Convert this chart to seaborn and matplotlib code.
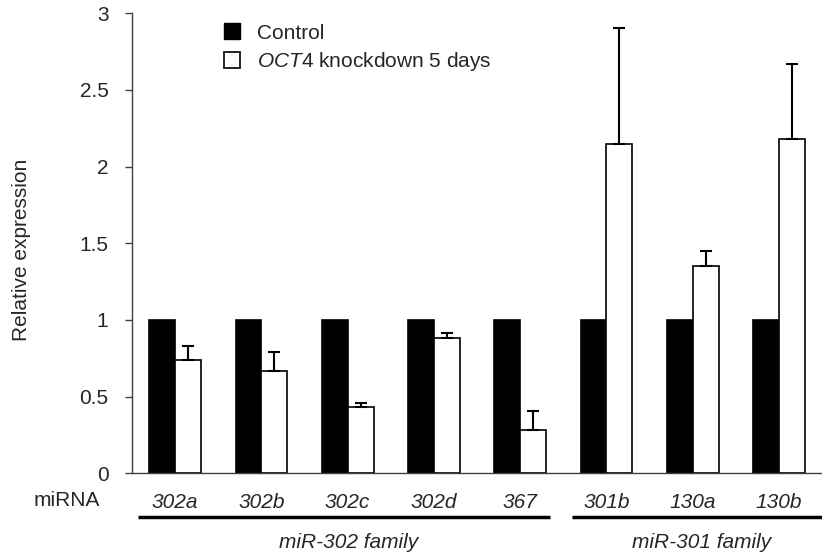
import numpy as np
import pandas as pd
import matplotlib
matplotlib.use("Agg")
import matplotlib.pyplot as plt
import seaborn as sns
from matplotlib.lines import Line2D
from matplotlib.ticker import FixedLocator, NullFormatter
import matplotlib.transforms as mtransforms

# ---- data ----
mirnas = ["302a", "302b", "302c", "302d", "367", "301b", "130a", "130b"]
control = [1, 1, 1, 1, 1, 1, 1, 1]
knockdown = [0.74, 0.67, 0.43, 0.88, 0.285, 2.145, 1.35, 2.18]
knockdown_err = [0.087, 0.118, 0.026, 0.038, 0.121, 0.757, 0.10, 0.49]
conditions = ["Control", "OCT4 knockdown 5 days"]
families = ["miR-302 family", "miR-301 family"]
family_members = [5, 3]

df = pd.DataFrame({
    "miRNA": mirnas * 2,
    "value": control + knockdown,
    "condition": [conditions[0]] * len(mirnas) + [conditions[1]] * len(mirnas),
})

sns.set_theme(style="white")
plt.rcParams["font.family"] = ["Liberation Sans", "DejaVu Sans"]
plt.rcParams["mathtext.fontset"] = "custom"
plt.rcParams["mathtext.it"] = "Liberation Sans:italic"
plt.rcParams["mathtext.rm"] = "Liberation Sans"
FS = 15

fig = plt.figure(figsize=(8.22, 5.54), dpi=100)
ax = fig.add_axes([132 / 822, 1 - 473.3 / 554, 690 / 822, (473.3 - 13.3) / 554])

sns.barplot(data=df, x="miRNA", y="value", hue="condition", order=mirnas,
            hue_order=conditions, palette=["black", "white"], edgecolor="black",
            linewidth=1.2, width=0.6, legend=False, ax=ax)

xpos = np.arange(len(mirnas)) + 0.15
ax.errorbar(xpos, knockdown, yerr=[np.zeros(len(mirnas)), knockdown_err],
            fmt="none", ecolor="black", elinewidth=1.5, capsize=4.5, capthick=1.5,
            zorder=1)

ax.set_xlim(-0.5, len(mirnas) - 0.5)
ax.set_ylim(0, 3)
ax.set_yticks([0, 0.5, 1, 1.5, 2, 2.5, 3])
ax.set_yticklabels(["0", "0.5", "1", "1.5", "2", "2.5", "3"], fontsize=FS)
ax.set_xticks(np.arange(len(mirnas)))
ax.set_xticklabels(mirnas, fontsize=FS, style="italic")
ax.xaxis.set_minor_locator(FixedLocator(np.arange(len(mirnas) + 1) - 0.5))
ax.xaxis.set_minor_formatter(NullFormatter())
ax.tick_params(axis="x", which="major", length=0, pad=14)
ax.tick_params(axis="x", which="minor", length=5, width=1, color="#404040", direction="out")
ax.tick_params(axis="y", length=5, width=1, color="#404040", direction="out", pad=12, left=True)
ax.set_xlabel("")
ax.set_ylabel("")
sns.despine(ax=ax)
for s in ["left", "bottom"]:
    ax.spines[s].set_color("#404040")
    ax.spines[s].set_linewidth(1)

fig.text(21.5 / 822, 1 - 250 / 554, "Relative expression", rotation=90,
         ha="center", va="center", fontsize=FS)
fig.text(100 / 822, 1 - 501 / 554, "miRNA", ha="right", va="center", fontsize=FS)

# family brackets
trans = mtransforms.blended_transform_factory(ax.transData, ax.transAxes)
y_line = (473.3 - 517) / 460
y_text = (473.3 - 542) / 460
starts = [-0.43, 4.6]
ends = [4.35, 7.5]
for fam, s, e in zip(families, starts, ends):
    ax.plot([s, e], [y_line, y_line], color="black", lw=2.5, transform=trans,
            clip_on=False, solid_capstyle="butt")
    ax.text((s + e) / 2 + 0.05, y_text, fam, transform=trans, ha="center",
            va="center", fontsize=FS, style="italic")

handles = [Line2D([], [], marker="s", linestyle="none", markersize=11,
                  markerfacecolor="black", markeredgecolor="black"),
           Line2D([], [], marker="s", linestyle="none", markersize=11,
                  markerfacecolor="white", markeredgecolor="black", markeredgewidth=1.2)]
labels = ["Control", r"$\it{OCT4}$ knockdown 5 days"]
ax.legend(handles, labels, loc="upper left", bbox_to_anchor=(0.111, 1.0),
          frameon=False, fontsize=FS, handletextpad=0.6, labelspacing=0.35,
          borderpad=0, handlelength=1.2)

fig.savefig("out.png", dpi=100)
